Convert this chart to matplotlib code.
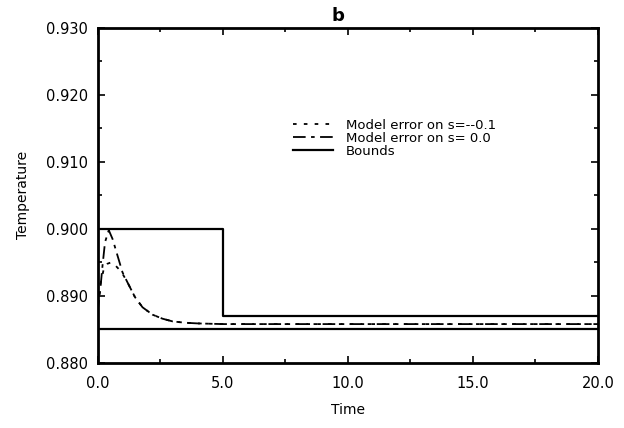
import matplotlib

matplotlib.use("Agg")
import matplotlib.pyplot as plt
from matplotlib.ticker import MultipleLocator, FormatStrFormatter

plt.rcParams["font.family"] = ["DejaVu Sans"]

# model error, s = -0.1 (dotted)
t_m01 = [0.0, 0.1, 0.25, 0.4, 0.55, 0.7, 0.85, 1.0, 1.2, 1.5, 1.8, 2.2, 2.6, 3.0, 3.5, 4.0, 5.0, 6.0, 8.0, 10.0, 15.0, 20.0]
T_m01 = [0.8885, 0.8915, 0.8940, 0.8948, 0.8950, 0.8946, 0.8940, 0.8933, 0.8920, 0.8898, 0.8883, 0.8872,
         0.8866, 0.8862, 0.8860, 0.8859, 0.8858, 0.8858, 0.8858, 0.8858, 0.8858, 0.8858]

# model error, s = 0.0 (dash-dot)
t_s00 = [0.0, 0.1, 0.2, 0.3, 0.45, 0.6, 0.8, 1.0, 1.2, 1.5, 1.8, 2.2, 2.6, 3.0, 3.5, 4.0, 5.0, 6.0, 8.0, 10.0, 15.0, 20.0]
T_s00 = [0.8875, 0.8905, 0.8945, 0.8980, 0.8998, 0.8985, 0.8960, 0.8935, 0.8920, 0.8898, 0.8883, 0.8872,
         0.8866, 0.8862, 0.8860, 0.8859, 0.8858, 0.8858, 0.8858, 0.8858, 0.8858, 0.8858]

# bounds
t_upper = [0.0, 5.0, 5.0, 20.0]
T_upper = [0.900, 0.900, 0.887, 0.887]
t_lower = [0.0, 20.0]
T_lower = [0.885, 0.885]

fig = plt.figure(figsize=(6.24, 4.28), dpi=100)
ax = fig.add_axes([97.5 / 624, 1 - 363 / 428, 500.5 / 624, 335.5 / 428])

ax.plot(t_m01, T_m01, color="black", lw=1.3, dashes=(2, 4), label="Model error on s=--0.1")
ax.plot(t_s00, T_s00, color="black", lw=1.3, dashes=(7, 3, 2, 3), label="Model error on s= 0.0")
ax.plot(t_upper, T_upper, color="black", lw=1.6, label="Bounds")
ax.plot(t_lower, T_lower, color="black", lw=1.6)

ax.set_xlim(0, 20)
ax.set_ylim(0.880, 0.930)
ax.xaxis.set_major_locator(MultipleLocator(5))
ax.xaxis.set_minor_locator(MultipleLocator(2.5))
ax.yaxis.set_major_locator(MultipleLocator(0.01))
ax.yaxis.set_minor_locator(MultipleLocator(0.005))
ax.xaxis.set_major_formatter(FormatStrFormatter("%.1f"))
ax.yaxis.set_major_formatter(FormatStrFormatter("%.3f"))
ax.tick_params(which="both", direction="in", top=True, right=True, labelsize=10.5, width=1.2)
ax.tick_params(which="major", length=5)
ax.tick_params(which="minor", length=3)
ax.tick_params(axis="x", which="major", pad=9)
ax.tick_params(axis="y", which="major", pad=7)
for sp in ax.spines.values():
    sp.set_linewidth(2.0)

ax.set_xlabel("Time", fontsize=10, labelpad=9)
ax.set_ylabel("Temperature", fontsize=10, labelpad=11)
ax.set_title("b", fontsize=13, fontweight="bold", pad=5, x=0.481)

ax.legend(loc="upper left", bbox_to_anchor=(293 / 624, 1 - 119 / 428), bbox_transform=fig.transFigure,
          frameon=False, fontsize=9.5, handlelength=3.0, handletextpad=1.0, labelspacing=0.0, borderpad=0,
          borderaxespad=0)

fig.savefig("out.png", dpi=100)
